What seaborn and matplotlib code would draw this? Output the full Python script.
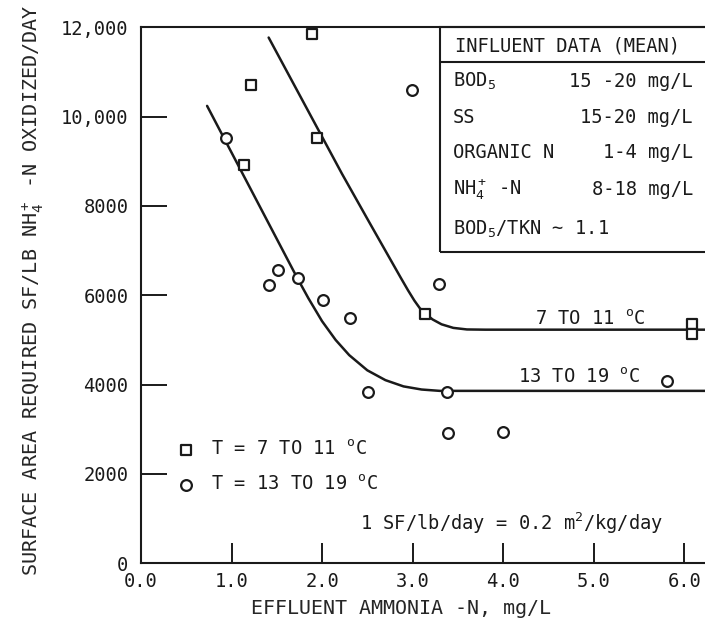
import numpy as np
import pandas as pd
import seaborn as sns
from matplotlib import pyplot as plt
from matplotlib.patches import Rectangle
from matplotlib.ticker import FuncFormatter

# squares: T = 7 to 11 C
cold_x = [1.22, 1.89, 1.94, 1.14, 3.14, 6.09, 6.09]
cold_y = [10700, 11850, 9510, 8910, 5570, 5360, 5130]

# circles: T = 13 to 19 C
warm_x = [0.94, 1.41, 1.51, 1.73, 2.01, 2.31, 2.51, 2.99, 3.29, 3.38, 3.39, 4.00, 5.81]
warm_y = [9510, 6230, 6560, 6390, 5900, 5490, 3840, 10600, 6250, 3840, 2910, 2930, 4080]

# fitted curves
cold_curve_x = [1.41, 2.22, 2.52, 2.87, 2.95, 3.02, 3.08, 3.14, 3.22, 3.32, 3.45, 3.60, 3.80, 6.25]
cold_curve_y = [11770, 8720, 7640, 6390, 6110, 5880, 5710, 5590, 5460, 5350, 5270, 5235, 5230, 5230]
warm_curve_x = [0.73, 1.72, 1.85, 2.00, 2.15, 2.30, 2.50, 2.70, 2.90, 3.10, 3.30, 6.25]
warm_curve_y = [10240, 6410, 5930, 5420, 5000, 4660, 4320, 4100, 3960, 3890, 3860, 3860]

x_ticks = [0, 1, 2, 3, 4, 5, 6]
y_ticks = [0, 2000, 4000, 6000, 8000, 10000, 12000]

table_rows = ['BOD$_5$', 'SS', 'ORGANIC N', 'NH$_4^+$ -N']
table_vals = ['15 -20 mg/L', '15-20 mg/L', '1-4 mg/L', '8-18 mg/L']

MONO = 'DejaVu Sans Mono'
FS = 13.5
INK = '#1a1a1a'


def main():
    sns.set_theme(style='white')
    plt.rcParams['font.family'] = [MONO]
    plt.rcParams['mathtext.fontset'] = 'custom'
    plt.rcParams['mathtext.rm'] = MONO
    plt.rcParams['mathtext.it'] = MONO
    plt.rcParams['mathtext.bf'] = MONO
    plt.rcParams['text.color'] = INK

    fig = plt.figure(figsize=(7.05, 6.24), dpi=100)
    ax = fig.add_axes([0.2, 0.0973, 0.8, 0.859])

    sns.lineplot(x=cold_curve_x, y=cold_curve_y, ax=ax, color=INK, lw=1.8,
                 sort=False, estimator=None)
    sns.lineplot(x=warm_curve_x, y=warm_curve_y, ax=ax, color=INK, lw=1.8,
                 sort=False, estimator=None)

    sns.scatterplot(x=cold_x, y=cold_y, ax=ax, marker='s', s=60,
                    facecolor='white', edgecolor=INK, linewidth=1.6,
                    zorder=5, clip_on=False)
    sns.scatterplot(x=warm_x, y=warm_y, ax=ax, marker='o', s=60,
                    facecolor='white', edgecolor=INK, linewidth=1.6,
                    zorder=5, clip_on=False)
    h = ax.collections
    ax.legend([h[0], h[1]],
              ['T = 7 TO 11 $^\\mathrm{o}$C', 'T = 13 TO 19 $^\\mathrm{o}$C'],
              loc='upper left', bbox_to_anchor=(0.064, 0.231), frameon=False,
              borderpad=0, borderaxespad=0, handlelength=1.0,
              handletextpad=0.8, labelspacing=0.86, fontsize=FS)

    ax.set_xlim(0, 6.23)
    ax.set_ylim(0, 12000)
    ax.set_xticks(x_ticks)
    ax.set_xticklabels([f'{v:.1f}' for v in x_ticks])
    ax.set_yticks(y_ticks)
    ax.yaxis.set_major_formatter(FuncFormatter(
        lambda v, p: f'{int(v):,}' if v >= 10000 else f'{int(v)}'))

    ax.tick_params(axis='y', direction='in', length=18.5, width=1.4,
                   pad=9, labelsize=FS, colors=INK, left=True)
    ax.tick_params(axis='x', direction='in', length=14.5, width=1.4,
                   pad=6, labelsize=FS, colors=INK, bottom=True)

    for side in ['left', 'bottom', 'top']:
        ax.spines[side].set_color(INK)
        ax.spines[side].set_linewidth(1.5)
    ax.spines['right'].set_visible(False)

    ax.set_xlabel('EFFLUENT AMMONIA -N, mg/L', fontsize=14.4)
    ax.xaxis.set_label_coords(0.461, -0.066)
    ax.set_ylabel('SURFACE AREA REQUIRED SF/LB NH$_4^+$ -N OXIDIZED/DAY',
                  fontsize=14.5)
    ax.yaxis.set_label_coords(-0.168, 0.51)

    # influent data box
    ax.add_patch(Rectangle((0.531, 0.581), 0.5, 0.42, transform=ax.transAxes,
                           fill=False, ec=INK, lw=1.5, clip_on=False))
    ax.plot([0.531, 1.02], [0.935, 0.935], transform=ax.transAxes,
            color=INK, lw=1.5, clip_on=False)
    ax.text(0.557, 0.954, 'INFLUENT DATA (MEAN)', transform=ax.transAxes,
            fontsize=FS, va='baseline')
    row_y = [0.8886, 0.8215, 0.7562, 0.6872]
    for lab, val, yy in zip(table_rows, table_vals, row_y):
        ax.text(0.553, yy, lab, transform=ax.transAxes, fontsize=FS,
                va='baseline')
        ax.text(0.9787, yy, val, transform=ax.transAxes, fontsize=FS,
                va='baseline', ha='right')
    ax.text(0.553, 0.6125, 'BOD$_5$/TKN ~ 1.1', transform=ax.transAxes,
            fontsize=FS, va='baseline')

    ax.text(0.6986, 0.4446, '7 TO 11 $^\\mathrm{o}$C', transform=ax.transAxes,
            fontsize=FS, va='baseline')
    ax.text(0.668, 0.3364, '13 TO 19 $^\\mathrm{o}$C', transform=ax.transAxes,
            fontsize=FS, va='baseline')
    ax.text(0.388, 0.0622, '1 SF/lb/day = 0.2 m$^2$/kg/day',
            transform=ax.transAxes, fontsize=FS, va='baseline')

    plt.savefig('out.png', dpi=100)


if __name__ == '__main__':
    main()
